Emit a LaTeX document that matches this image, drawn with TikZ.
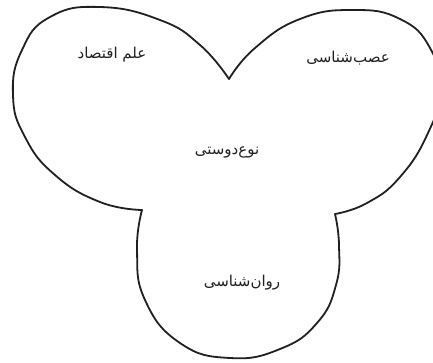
\documentclass[tikz,border=0pt]{standalone}
\usepackage{fontspec}
\newfontfamily\arabicfont[Script=Arabic]{DejaVu Sans}
\TeXXeTstate=1
\definecolor{lobeink}{HTML}{231F20}
\begin{document}
\begin{tikzpicture}[x=1pt,y=-1pt,line cap=round,line join=round,
  lobe/.style={draw=lobeink,line width=1.8pt},
  lbl/.style={font=\arabicfont\fontsize{15}{17}\selectfont,text=lobeink,inner sep=1pt}]
\useasboundingbox (0,0) rectangle (433,362);
\clip (0,0) rectangle (433,362);
% left lobe
\draw[lobe] plot[smooth,tension=0.8] coordinates {(229,79) (200,45) (160,20) (100,7) (50,17)
  (22,50) (13,95) (25,137) (55,175) (100,202) (142,210)};
% right lobe
\draw[lobe] plot[smooth,tension=0.8] coordinates {(229,79) (255,48) (300,19) (353,10) (400,19)
  (430,48) (440,90) (428,133) (400,177) (367,203) (335,214)};
% bottom lobe
\draw[lobe] plot[smooth,tension=0.8] coordinates {(142,210) (137,250) (145,300) (180,343)
  (230,358) (280,349) (317,323) (336,285) (339,245) (335,214)};
\node[lbl] (econ) at (112,55) {\beginR علم اقتصاد\endR};
\node[lbl] (neuro) at (348,58) {\beginR عصب‌شناسی\endR};
\node[lbl] (altru) at (227,152) {\beginR نوع‌دوستی\endR};
\node[lbl] (psych) at (242,283) {\beginR روان‌شناسی\endR};
\end{tikzpicture}
\end{document}
